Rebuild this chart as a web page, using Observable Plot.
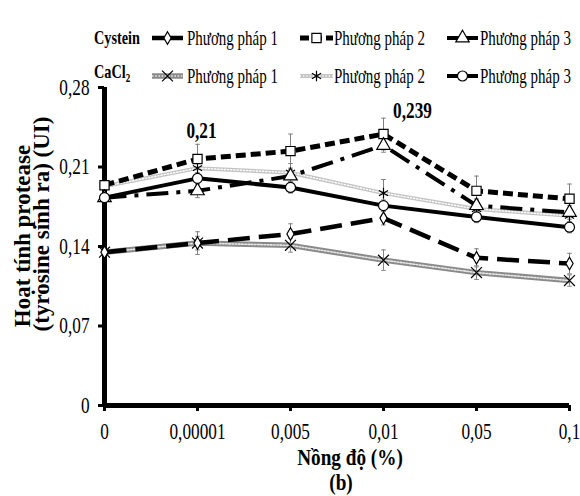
<!DOCTYPE html>
<html><head><meta charset="utf-8">
<script src="https://cdn.jsdelivr.net/npm/d3@7"></script>
<script src="https://cdn.jsdelivr.net/npm/@observablehq/plot@0.6"></script>
<style>
html,body{margin:0;padding:0;background:#fff;}
#chart{width:580px;height:496px;position:relative;}
#chart svg{display:block;overflow:visible;}
[aria-label="x-axis tick"],[aria-label="y-axis tick"],.tick line{stroke-width:3px;stroke:#000;}
</style></head>
<body><div id="chart"></div>
<script>
// ---- data ----
const concentrations = ["0", "0,00001", "0,005", "0,01", "0,05", "0,1"];
const yTicks = [0, 0.07, 0.14, 0.21, 0.28];

const cysPP1 = [0.135, 0.143, 0.151, 0.165, 0.130, 0.125];
const cysPP2 = [0.194, 0.217, 0.224, 0.239, 0.189, 0.182];
const cysPP3 = [0.183, 0.189, 0.202, 0.229, 0.176, 0.170];
const caPP1  = [0.135, 0.143, 0.141, 0.128, 0.117, 0.110];
const caPP2  = [0.193, 0.209, 0.205, 0.187, 0.173, 0.167];
const caPP3  = [0.183, 0.200, 0.192, 0.176, 0.166, 0.157];

const cysPP1Err = [0.004, 0.010, 0.009, 0.006, 0.008, 0.009];
const cysPP2Err = [0.006, 0.013, 0.015, 0.014, 0.013, 0.013];
const cysPP3Err = [0.005, 0.006, 0.006, 0.006, 0.006, 0.006];
const caPP1Err  = [0.005, 0.006, 0.006, 0.009, 0.006, 0.005];
const caPP2Err  = [0.005, 0.008, 0.008, 0.012, 0.008, 0.006];
const caPP3Err  = [0.004, 0.005, 0.005, 0.005, 0.005, 0.005];

const legendGroups = ["Cystein", "CaCl"];
const methodNames = ["Phương pháp 1", "Phương pháp 2", "Phương pháp 3"];
const annotationX = ["0,00001", "0,01"];
const annotationY = [0.217, 0.239];
const annotationText = ["0,21", "0,239"];
const yTitle = ["Hoạt tính protease", "(tyrosine sinh ra) (UI)"];
const xTitle = "Nồng độ (%)";
const panelTag = "(b)";

// ---- series table ----
const seriesDefs = [
  {key: "caPP1", group: 1, method: 0, values: caPP1, errors: caPP1Err},
  {key: "caPP2", group: 1, method: 1, values: caPP2, errors: caPP2Err},
  {key: "cysPP1", group: 0, method: 0, values: cysPP1, errors: cysPP1Err},
  {key: "cysPP2", group: 0, method: 1, values: cysPP2, errors: cysPP2Err},
  {key: "cysPP3", group: 0, method: 2, values: cysPP3, errors: cysPP3Err},
  {key: "caPP3", group: 1, method: 2, values: caPP3, errors: caPP3Err}
];

// ---- styles ----
const styles = {
  cysPP1: {stroke: "#000", width: 4.5, dash: "22,9", symbol: "diamond", r: 3.8, fill: "#fff", legendDash: null},
  cysPP2: {stroke: "#000", width: 5, dash: "10,5", symbol: "square", r: 5.2, fill: "#fff", legendDash: "9,4"},
  cysPP3: {stroke: "#000", width: 4, dash: "22,8,4,8", symbol: "triangle", r: 5, fill: "#fff", legendDash: null},
  caPP1: {stroke: "#8a8a8a", width: 5.5, dash: null, overlay: {stroke: "#e6e6e6", width: 1.6, dash: "1.6,1.6"}, symbol: "times", r: 5, fill: "none"},
  caPP2: {stroke: "#c4c4c4", width: 4, dash: null, overlay: {stroke: "#fff", width: 1.4, dash: "1.2,2"}, symbol: "asterisk", r: 5, fill: "none"},
  caPP3: {stroke: "#000", width: 4, dash: null, symbol: "circle", r: 5, fill: "#fff"}
};
const labelOffsets = [{dx: 4, dy: -28}, {dx: 29, dy: -23}];
const SERIF = "'Liberation Serif','Times New Roman',serif";
const CONDENSE = 0.75;
const TICK_FONT = 23;

const rows = seriesDefs.flatMap(s => s.values.map((v, i) => ({
  key: s.key, c: concentrations[i], v, lo: v - s.errors[i], hi: v + s.errors[i]
})));

const capSym = {draw(ctx, size) { const r = Math.sqrt(size / Math.PI); ctx.moveTo(-r, 0); ctx.lineTo(r, 0); }};

const lineMarks = seriesDefs.flatMap(s => {
  const st = styles[s.key];
  const data = rows.filter(d => d.key === s.key);
  const m = [Plot.line(data, {x: "c", y: "v", stroke: st.stroke, strokeWidth: st.width,
    strokeDasharray: st.dash || undefined, strokeLinejoin: "miter", strokeLinecap: "butt"})];
  if (st.overlay) m.push(Plot.line(data, {x: "c", y: "v", stroke: st.overlay.stroke,
    strokeWidth: st.overlay.width, strokeDasharray: st.overlay.dash}));
  return m;
});
const dotMarks = seriesDefs.map(s => {
  const st = styles[s.key];
  return Plot.dot(rows.filter(d => d.key === s.key), {x: "c", y: "v", symbol: st.symbol, r: st.r,
    fill: st.fill, stroke: "#000", strokeWidth: 1.2});
});
const labelMarks = annotationText.map((t, i) => Plot.text([{x: annotationX[i], y: annotationY[i], t}],
  {x: "x", y: "y", text: "t", dx: labelOffsets[i].dx, dy: labelOffsets[i].dy,
   fontWeight: "bold", fontSize: 23, fill: "#000"}));

const chart = Plot.plot({
  width: 580, height: 496,
  marginTop: 87, marginBottom: 91, marginLeft: 104, marginRight: 11,
  style: {fontFamily: SERIF, fontSize: TICK_FONT + "px", color: "#000", background: "transparent"},
  x: {type: "point", domain: concentrations, padding: 0, tickSize: 6, tickPadding: 11, label: null},
  y: {domain: [0, 0.28], ticks: yTicks, tickFormat: d => d === 0 ? "0" : d.toFixed(2).replace(".", ","),
      tickSize: 6, tickPadding: 9, label: null},
  marks: [
    Plot.ruleX(rows, {x: "c", y1: "lo", y2: "hi", stroke: "#808080", strokeWidth: 1}),
    Plot.dot(rows, {x: "c", y: "hi", symbol: capSym, r: 2.3, stroke: "#808080", strokeWidth: 1}),
    Plot.dot(rows, {x: "c", y: "lo", symbol: capSym, r: 2.3, stroke: "#808080", strokeWidth: 1}),
    ...lineMarks,
    Plot.ruleY([0], {stroke: "#000", strokeWidth: 5}),
    Plot.ruleX([concentrations[0]], {y1: 0, y2: 0.28, stroke: "#000", strokeWidth: 5}),
    ...dotMarks,
    ...labelMarks
  ]
});
document.getElementById("chart").appendChild(chart);

// enlarge axis tick labels
chart.querySelectorAll('[aria-label="x-axis tick label"], [aria-label="y-axis tick label"], .tick').forEach(g => {
  g.setAttribute("font-size", TICK_FONT);
  g.style.fontSize = TICK_FONT + "px";
  g.querySelectorAll("text").forEach(t => { t.style.fontSize = TICK_FONT + "px"; t.setAttribute("fill", "#000"); });
});

// condense Plot texts horizontally (narrow Times look)
chart.querySelectorAll("text").forEach(el => {
  let t = el.getAttribute("transform") || "";
  const x = el.getAttribute("x");
  if (x && !isNaN(+x) && +x !== 0) { t += ` translate(${+x},0)`; el.removeAttribute("x"); }
  el.setAttribute("transform", (t + ` scale(${CONDENSE},1)`).trim());
});

const svg = d3.select(chart);

// y title
yTitle.forEach((line, i) => {
  svg.append("text")
    .attr("transform", `translate(${[30, 49][i]},${[236, 224][i]}) rotate(-90)`)
    .attr("text-anchor", "middle").attr("font-family", SERIF).attr("font-weight", "bold")
    .attr("font-size", 23).attr("fill", "#000").text(line);
});
// x title and panel tag
svg.append("text").attr("transform", `translate(350,465) scale(0.8,1)`).attr("text-anchor", "middle")
  .attr("font-family", SERIF).attr("font-weight", "bold").attr("font-size", 24).text(xTitle);
svg.append("text").attr("transform", `translate(341,490) scale(0.8,1)`).attr("text-anchor", "middle")
  .attr("font-family", SERIF).attr("font-weight", "bold").attr("font-size", 24).text(panelTag);

// legend
const symMap = {diamond: d3.symbolDiamond, square: d3.symbolSquare, triangle: d3.symbolTriangle,
  times: d3.symbolX || d3.symbolTimes, asterisk: d3.symbolAsterisk, circle: d3.symbolCircle};
const colSwatch = [[152, 183], [300, 333], [447, 478]];
const colText = [187, 334, 480];
const rowY = [38, 76];
const lg = svg.append("g").attr("font-family", SERIF).attr("text-anchor", "start");
// group labels
lg.append("text").attr("transform", `translate(94,${rowY[0] + 6}) scale(${CONDENSE},1)`)
  .attr("text-anchor", "start").attr("font-weight", "bold").attr("font-size", 19).text(legendGroups[0]);
const g1 = lg.append("text").attr("transform", `translate(94,${rowY[1] + 2}) scale(${CONDENSE},1)`)
  .attr("text-anchor", "start").attr("font-weight", "bold").attr("font-size", 19);
g1.append("tspan").text(legendGroups[1]);
g1.append("tspan").attr("font-size", 12).attr("dy", 4).text("2");

seriesDefs.forEach(s => {
  const st = styles[s.key];
  const y = rowY[s.group];
  const [x1, x2] = colSwatch[s.method];
  const ld = st.legendDash !== undefined ? st.legendDash : st.dash;
  lg.append("line").attr("x1", x1).attr("x2", x2).attr("y1", y).attr("y2", y)
    .attr("stroke", st.stroke).attr("stroke-width", st.width)
    .attr("stroke-dasharray", ld || null);
  if (st.overlay) lg.append("line").attr("x1", x1).attr("x2", x2).attr("y1", y).attr("y2", y)
    .attr("stroke", st.overlay.stroke).attr("stroke-width", st.overlay.width)
    .attr("stroke-dasharray", st.overlay.dash);
  lg.append("path").attr("transform", `translate(${(x1 + x2) / 2},${y})`)
    .attr("d", d3.symbol(symMap[st.symbol], Math.PI * st.r * st.r)())
    .attr("fill", st.fill).attr("stroke", "#000").attr("stroke-width", 1.2);
  lg.append("text").attr("transform", `translate(${colText[s.method]},${y + 7}) scale(${CONDENSE},1)`)
    .attr("text-anchor", "start").attr("font-size", 20).attr("fill", "#000").text(methodNames[s.method]);
});
</script>
</body></html>
